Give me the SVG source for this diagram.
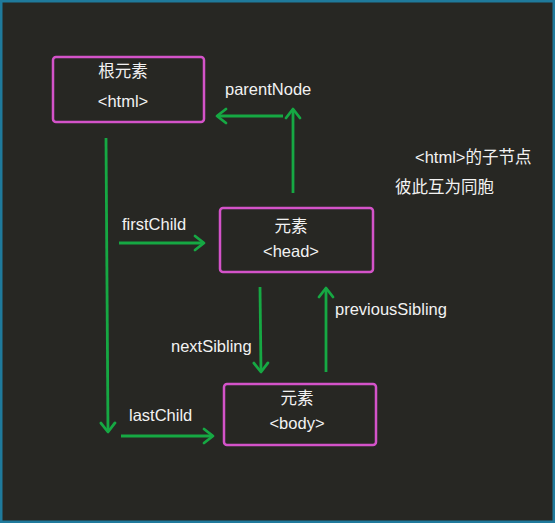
<svg xmlns="http://www.w3.org/2000/svg" width="555" height="523" viewBox="0 0 555 523">
<defs>
<style>
.box{fill:none;stroke:#d453c9;stroke-width:2.5}
.t{font-family:"Liberation Sans","Noto Sans CJK SC",sans-serif;font-size:16.5px;fill:#f2f2f2}
.c{text-anchor:middle}
.ar{stroke:#16a843;stroke-width:2.8;fill:none;marker-end:url(#ah)}
</style>
<marker id="ah" markerUnits="userSpaceOnUse" markerWidth="14" markerHeight="18" refX="11" refY="8" orient="auto" viewBox="0 0 14 16">
<path d="M2,1 L11,8 L2,15" fill="none" stroke="#16a843" stroke-width="2.8" stroke-linecap="round" stroke-linejoin="round"/>
</marker>
</defs>
<rect x="0" y="0" width="555" height="523" fill="#1f7a9c"/>
<rect x="2.5" y="2.5" width="550" height="518" fill="#272723"/>
<g id="connectors">
<line class="ar" x1="106" y1="138" x2="108" y2="432"/>
<line class="ar" x1="283" y1="116" x2="217" y2="116"/>
<line class="ar" x1="293" y1="193" x2="293" y2="109"/>
<line class="ar" x1="119" y1="243" x2="204" y2="243"/>
<line class="ar" x1="260" y1="287" x2="261" y2="372"/>
<line class="ar" x1="326" y1="372" x2="326" y2="288"/>
<line class="ar" x1="121" y1="436" x2="213" y2="436"/>
<text class="t" x="225" y="95">parentNode</text>
<text class="t" x="122" y="230">firstChild</text>
<text class="t" x="171" y="352">nextSibling</text>
<text class="t" x="335" y="315">previousSibling</text>
<text class="t" x="129" y="421">lastChild</text>
</g>
<g id="root">
<rect class="box" x="53" y="57" width="151" height="65" rx="3"/>
<text class="t c" x="123" y="77">根元素</text>
<text class="t c" x="123" y="107">&lt;html&gt;</text>
</g>
<g id="head">
<rect class="box" x="220" y="208" width="153" height="64" rx="3"/>
<text class="t c" x="291" y="232">元素</text>
<text class="t c" x="291" y="257">&lt;head&gt;</text>
</g>
<g id="body">
<rect class="box" x="224" y="384" width="152" height="61" rx="3"/>
<text class="t c" x="297" y="404">元素</text>
<text class="t c" x="297" y="429">&lt;body&gt;</text>
</g>
<g id="note">
<text class="t" x="415" y="163">&lt;html&gt;的子节点</text>
<text class="t" x="395" y="193">彼此互为同胞</text>
</g>
</svg>
